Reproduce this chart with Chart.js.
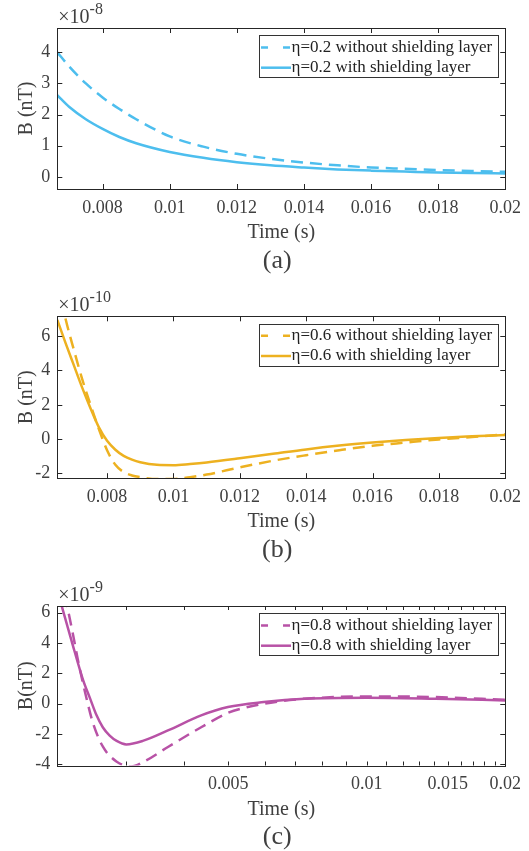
<!DOCTYPE html>
<html>
<head>
<meta charset="utf-8">
<script src="https://cdn.jsdelivr.net/npm/chart.js@4.4.0/dist/chart.umd.min.js"></script>
<style>
  html, body { margin: 0; padding: 0; background: #ffffff; }
  body { width: 529px; height: 851px; position: relative; overflow: hidden; }
  canvas { position: absolute; left: 0; }
</style>
</head>
<body>
<canvas id="chartA" width="529" height="285" style="top:0px"></canvas>
<canvas id="chartB" width="529" height="290" style="top:285px"></canvas>
<canvas id="chartC" width="529" height="276" style="top:575px"></canvas>
<script>
// (a) eta = 0.2, B in units of 1e-8 nT
const timeA = [0.00665, 0.007, 0.0075, 0.008, 0.0085, 0.009, 0.01, 0.011, 0.012, 0.013, 0.014, 0.015, 0.016, 0.017, 0.018, 0.019, 0.02];
const withoutA = [4.0, 3.55, 3.0, 2.55, 2.18, 1.85, 1.30, 0.97, 0.74, 0.58, 0.46, 0.37, 0.30, 0.26, 0.22, 0.19, 0.16];
const withA = [2.62, 2.25, 1.85, 1.54, 1.28, 1.08, 0.80, 0.61, 0.47, 0.37, 0.30, 0.24, 0.20, 0.17, 0.14, 0.12, 0.11];
const xTicksA = [0.008, 0.01, 0.012, 0.014, 0.016, 0.018, 0.02];
const xLabelsA = ["0.008", "0.01", "0.012", "0.014", "0.016", "0.018", "0.02"];
const yTicksA = [0, 1, 2, 3, 4];

// (b) eta = 0.6, B in units of 1e-10 nT
const timeB = [0.0065, 0.00675, 0.007, 0.00725, 0.0075, 0.00775, 0.008, 0.00825, 0.0085, 0.00875, 0.009, 0.0095, 0.01, 0.0105, 0.011, 0.012, 0.013, 0.014, 0.015, 0.016, 0.017, 0.018, 0.019, 0.02];
const withoutB = [9.2, 7.0, 5.2, 3.5, 2.0, 0.6, -0.65, -1.5, -1.92, -2.12, -2.22, -2.33, -2.32, -2.22, -2.07, -1.65, -1.26, -0.94, -0.65, -0.39, -0.2, -0.02, 0.12, 0.27];
const withB = [6.95, 5.6, 4.3, 3.0, 1.8, 0.7, -0.1, -0.62, -0.98, -1.2, -1.35, -1.5, -1.52, -1.45, -1.36, -1.12, -0.86, -0.6, -0.38, -0.2, -0.05, 0.07, 0.16, 0.24];
const xTicksB = [0.008, 0.01, 0.012, 0.014, 0.016, 0.018, 0.02];
const xLabelsB = ["0.008", "0.01", "0.012", "0.014", "0.016", "0.018", "0.02"];
const yTicksB = [-2, 0, 2, 4, 6];

// (c) eta = 0.8, B in units of 1e-9 nT, log time axis
const timeCWithout = [0.002125, 0.002227, 0.002301, 0.002359, 0.00246, 0.002542, 0.002672, 0.002856, 0.003077, 0.003287, 0.003697, 0.004366, 0.004993, 0.005544, 0.006435, 0.007322, 0.01, 0.01412, 0.02];
const withoutC = [9.6, 6.6, 4.5, 2.8, 0.35, -1.3, -2.85, -3.8, -4.14, -3.8, -2.85, -1.55, -0.6, -0.2, 0.15, 0.33, 0.48, 0.44, 0.26];
const timeCWith = [0.002125, 0.002165, 0.002283, 0.002418, 0.0025, 0.002585, 0.002668, 0.002762, 0.00286, 0.003001, 0.00326, 0.003697, 0.004366, 0.004993, 0.005973, 0.007322, 0.01, 0.01412, 0.02];
const withC = [7.5, 6.6, 4.13, 1.56, 0.4, -0.75, -1.55, -2.1, -2.45, -2.68, -2.45, -1.76, -0.77, -0.22, 0.11, 0.33, 0.40, 0.33, 0.22];
const xTicksC = [0.005, 0.01, 0.015, 0.02];
const xLabelsC = ["0.005", "0.01", "0.015", "0.02"];
const xMinorC = [0.003, 0.004, 0.006, 0.007, 0.008, 0.009, 0.011, 0.012, 0.013, 0.014, 0.016, 0.017, 0.018, 0.019];
const yTicksC = [-4, -2, 0, 2, 4, 6];

const FONT = "'Liberation Serif', 'Times New Roman', serif";
const TEXT = "#404040";
const FRAME = "#262626";

// matlab-like box: inward ticks on all sides, legend box, exponent and caption
const matlabBox = {
  id: "matlabBox",
  afterDraw(chart, args, opts) {
    const { ctx, chartArea: a } = chart;
    const xs = chart.scales.x, ys = chart.scales.y;
    ctx.save();
    ctx.strokeStyle = FRAME;
    ctx.lineWidth = 1;
    ctx.setLineDash([]);
    ctx.beginPath();
    xs.ticks.forEach((t) => {
      const px = Math.round(xs.getPixelForValue(t.value)) + 0.5;
      ctx.moveTo(px, a.bottom); ctx.lineTo(px, a.bottom - opts.tickLen);
      ctx.moveTo(px, a.top); ctx.lineTo(px, a.top + opts.tickLen);
    });
    ys.ticks.forEach((t) => {
      const py = Math.round(ys.getPixelForValue(t.value)) + 0.5;
      ctx.moveTo(a.left, py); ctx.lineTo(a.left + 5, py);
      ctx.moveTo(a.right, py); ctx.lineTo(a.right - 5, py);
    });
    ctx.stroke();
    ctx.strokeRect(Math.round(a.left) + 0.5, Math.round(a.top) + 0.5, Math.round(a.width), Math.round(a.height));

    // legend
    const ds = chart.data.datasets;
    ctx.font = "17px " + FONT;
    let tw = 0;
    ds.forEach((d) => { tw = Math.max(tw, ctx.measureText(d.label).width); });
    const bw = 33 + tw + 5, bh = 41.5;
    const bx = a.right - 8 - bw, by = a.top + 7.4;
    ctx.fillStyle = "#ffffff";
    ctx.fillRect(bx, by, bw, bh);
    ctx.strokeStyle = "#333333";
    ctx.strokeRect(Math.round(bx) + 0.5, Math.round(by) + 0.5, Math.round(bw), Math.round(bh));
    ds.forEach((d, i) => {
      const cy = by + 12 + i * 20.3;
      ctx.strokeStyle = d.borderColor;
      ctx.lineWidth = 2.5;
      ctx.setLineDash(d.borderDash && d.borderDash.length ? [7, 15] : []);
      ctx.beginPath();
      ctx.moveTo(bx + 2.5, cy); ctx.lineTo(bx + 32.5, cy);
      ctx.stroke();
      ctx.setLineDash([]);
      ctx.fillStyle = "#222222";
      ctx.textBaseline = "middle";
      ctx.textAlign = "left";
      ctx.fillText(d.label, bx + 33, cy);
    });

    // exponent label
    ctx.fillStyle = TEXT;
    ctx.textBaseline = "alphabetic";
    ctx.textAlign = "left";
    ctx.font = "20px " + FONT;
    const ex = a.left + 1, ey = a.top - 5;
    ctx.fillText("\u00d710", ex, ey);
    const w10 = ctx.measureText("\u00d710").width;
    ctx.font = "16px " + FONT;
    ctx.fillText(opts.exponent, ex + w10, ey - 9);

    // caption
    ctx.font = "26px " + FONT;
    ctx.textAlign = "center";
    ctx.textBaseline = "middle";
    ctx.fillText(opts.caption, (a.left + a.right) / 2 - 4, a.bottom + 72);
    ctx.restore();
  }
};

function makePanel(id, cfg) {
  const datasets = cfg.series.map((s) => ({
    label: s.label,
    data: s.time.map((t, i) => ({ x: t, y: s.values[i] })),
    borderColor: cfg.color,
    borderWidth: 2.5,
    borderDash: s.dashed ? [12, 7] : [],
    pointRadius: 0,
    cubicInterpolationMode: "monotone",
    fill: false,
    clip: 0,
  }));
  const allTicks = cfg.xTicks.concat(cfg.xMinor || []).sort((p, q) => p - q);
  return new Chart(document.getElementById(id), {
    type: "line",
    data: { datasets: datasets },
    options: {
      responsive: false,
      animation: false,
      devicePixelRatio: 1,
      layout: { padding: { top: cfg.top, right: 22, left: 0, bottom: cfg.bottomPad } },
      plugins: {
        legend: { display: false },
        tooltip: { enabled: false },
        matlabBox: { exponent: cfg.exponent, caption: cfg.caption, tickLen: cfg.tickLen },
      },
      scales: {
        x: {
          type: cfg.xType,
          min: cfg.xMin,
          max: cfg.xMax,
          grid: { display: false, drawTicks: false },
          border: { display: false },
          afterBuildTicks: (s) => { s.ticks = allTicks.map((v) => ({ value: v })); },
          afterFit: (s) => { s.height = 56; },
          ticks: {
            autoSkip: false,
            maxRotation: 0,
            padding: 8,
            color: TEXT,
            font: { family: FONT, size: 18 },
            callback: (v) => {
              const k = cfg.xTicks.indexOf(v);
              return k >= 0 ? cfg.xLabels[k] : "";
            },
          },
          title: {
            display: true,
            text: "Time (s)",
            color: TEXT,
            font: { family: FONT, size: 20 },
            padding: { top: 0, bottom: 0 },
          },
        },
        y: {
          type: "linear",
          min: cfg.yMin,
          max: cfg.yMax,
          grid: { display: false, drawTicks: false },
          border: { display: false },
          afterBuildTicks: (s) => { s.ticks = cfg.yTicks.map((v) => ({ value: v })); },
          afterFit: (s) => { s.width = 57.3; },
          ticks: {
            autoSkip: false,
            padding: 7,
            color: TEXT,
            font: { family: FONT, size: 18 },
            callback: (v) => String(v),
          },
          title: {
            display: true,
            text: cfg.yLabel,
            color: TEXT,
            font: { family: FONT, size: 20 },
            padding: { top: 15, bottom: 0 },
          },
        },
      },
    },
    plugins: [matlabBox],
  });
}

makePanel("chartA", {
  xType: "linear", xMin: 0.00665, xMax: 0.02, xTicks: xTicksA, xLabels: xLabelsA,
  yMin: -0.39, yMax: 4.78, yTicks: yTicksA, yLabel: "B (nT)",
  exponent: "-8", caption: "(a)", top: 28, bottomPad: 40, tickLen: 5,
  color: "#4DBEEE",
  series: [
    { label: "\u03b7=0.2 without shielding layer", time: timeA, values: withoutA, dashed: true },
    { label: "\u03b7=0.2 with shielding layer", time: timeA, values: withA, dashed: false },
  ],
});

makePanel("chartB", {
  xType: "linear", xMin: 0.0065, xMax: 0.02, xTicks: xTicksB, xLabels: xLabelsB,
  yMin: -2.28, yMax: 7.16, yTicks: yTicksB, yLabel: "B (nT)",
  exponent: "-10", caption: "(b)", top: 31.3, bottomPad: 40.8, tickLen: 5,
  color: "#EDB120",
  series: [
    { label: "\u03b7=0.6 without shielding layer", time: timeB, values: withoutB, dashed: true },
    { label: "\u03b7=0.6 with shielding layer", time: timeB, values: withB, dashed: false },
  ],
});

makePanel("chartC", {
  xType: "logarithmic", xMin: 0.002125, xMax: 0.02, xTicks: xTicksC, xLabels: xLabelsC, xMinor: xMinorC,
  yMin: -4.07, yMax: 6.44, yTicks: yTicksC, yLabel: "B(nT)",
  exponent: "-9", caption: "(c)", top: 31, bottomPad: 29.5, tickLen: 4,
  color: "#B852A6",
  series: [
    { label: "\u03b7=0.8 without shielding layer", time: timeCWithout, values: withoutC, dashed: true },
    { label: "\u03b7=0.8 with shielding layer", time: timeCWith, values: withC, dashed: false },
  ],
});
</script>
</body>
</html>
